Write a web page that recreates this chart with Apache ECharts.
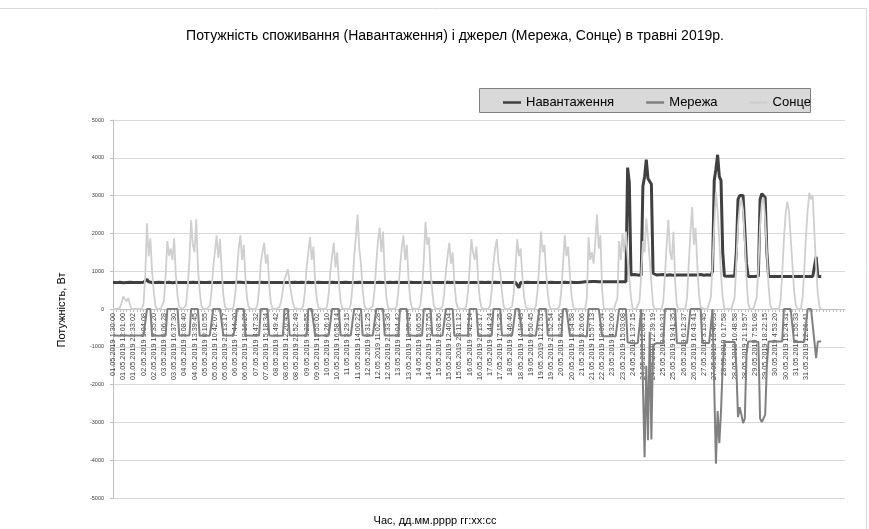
<!DOCTYPE html>
<html>
<head>
<meta charset="utf-8">
<title>Потужність у травні 2019</title>
<script src="https://cdn.jsdelivr.net/npm/echarts@6/dist/echarts.min.js"></script>
<style>
html, body { margin: 0; padding: 0; background: #fff; }
#main { width: 869px; height: 529px; }
</style>
</head>
<body>
<div id="main"></div>
<script>
// підписи осі часу (кожна 6-та точка)
var tickLabels = ['01.05.2019 1:30:00','01.05.2019 12:01:00','01.05.2019 22:33:02','02.05.2019 9:04:08','02.05.2019 19:35:20',
	'03.05.2019 6:06:28','03.05.2019 16:37:30','04.05.2019 3:08:40','04.05.2019 13:39:45','05.05.2019 0:10:55',
	'05.05.2019 10:42:07','05.05.2019 21:13:17','06.05.2019 7:44:20','06.05.2019 18:16:26','07.05.2019 4:47:32',
	'07.05.2019 15:18:34','08.05.2019 1:49:42','08.05.2019 12:20:43','08.05.2019 22:52:49','09.05.2019 9:23:55',
	'09.05.2019 19:55:02','10.05.2019 6:26:10','10.05.2019 16:58:14','11.05.2019 3:29:15','11.05.2019 14:00:22',
	'12.05.2019 0:31:25','12.05.2019 11:02:28','12.05.2019 21:33:36','13.05.2019 8:04:42','13.05.2019 18:35:49',
	'14.05.2019 5:06:55','14.05.2019 15:37:55','15.05.2019 2:08:56','15.05.2019 12:40:04','15.05.2019 23:11:12',
	'16.05.2019 9:42:14','16.05.2019 20:13:17','17.05.2019 6:44:24','17.05.2019 17:15:35','18.05.2019 3:46:40',
	'18.05.2019 14:18:43','19.05.2019 0:50:45','19.05.2019 11:21:51','19.05.2019 21:52:54','20.05.2019 8:23:56',
	'20.05.2019 18:54:58','21.05.2019 5:26:06','21.05.2019 15:57:13','22.05.2019 18:00:54','23.05.2019 4:32:00',
	'23.05.2019 15:03:08','24.05.2019 1:37:15','24.05.2019 12:08:19','24.05.2019 22:39:19','25.05.2019 9:10:31',
	'25.05.2019 19:41:35','26.05.2019 6:12:37','26.05.2019 16:43:41','27.05.2019 3:15:45','27.05.2019 13:46:53',
	'28.05.2019 0:17:58','28.05.2019 10:48:58','28.05.2019 21:19:57','29.05.2019 7:51:08','29.05.2019 18:22:15',
	'30.05.2019 4:53:20','30.05.2019 15:24:31','31.05.2019 1:55:33','31.05.2019 12:26:41'];

// Навантаження, Вт (рядок = доба)
var navantazhennya = [
	700,705,698,702,710,700,695,705,700,698,705,700,702,
	700,698,705,700,702,708,760,780,720,705,700,698,702,700,
	705,700,698,702,700,705,710,700,695,700,705,700,698,702,
	700,705,700,698,702,710,705,700,698,700,705,702,700,
	702,700,698,705,700,702,710,700,705,698,700,702,705,700,
	700,702,705,700,698,705,700,710,702,700,698,705,700,702,
	705,700,702,698,700,705,700,702,708,700,698,700,705,
	700,698,702,705,700,702,700,705,700,698,702,700,705,700,
	702,700,705,700,698,702,710,705,700,702,698,700,705,702,
	700,705,702,700,698,700,705,700,702,710,700,698,702,700,
	705,700,702,698,700,705,702,700,705,700,698,702,700,
	702,700,705,700,698,702,700,705,710,700,702,698,700,705,
	700,702,698,705,700,702,705,700,698,702,700,705,702,700,
	705,700,702,700,698,705,700,702,700,705,698,700,702,
	700,705,700,702,698,700,705,702,700,698,705,700,702,700,
	702,700,698,705,700,702,700,705,702,700,698,702,705,700,
	700,702,705,700,698,700,705,702,700,705,700,698,702,
	705,700,702,698,700,705,700,560,700,702,698,700,705,700,
	700,702,700,705,698,702,700,705,700,698,702,700,705,702,
	700,705,702,700,698,702,705,700,702,700,705,698,700,
	705,700,702,710,715,720,725,720,730,725,720,730,725,722,728,720,725,722,720,
	720,725,718,722,720,725,720,718,722,725,720,3740,3350,
	900,890,910,895,900,905,890,3250,3500,3950,3450,3400,3300,950,
	910,900,895,905,900,910,900,895,900,905,900,890,905,900,910,900,895,
	900,905,900,890,900,905,900,895,900,905,910,900,895,900,905,900,890,
	1000,3400,3700,4080,3500,3400,1500,
	870,860,865,860,870,860,865,1500,2900,3000,3020,3000,2950,1200,
	860,865,860,870,860,865,870,2900,3050,3070,2950,1500,
	860,865,860,870,860,865,860,870,860,865,860,870,860,865,
	860,870,860,865,860,870,860,865,860,870,860,865,860,870,
	1380,860,870,860
];

// Мережа, Вт
var merezha = [
	-700,-705,-698,-702,-710,-700,-695,-705,-700,-698,-705,-700,-702,
	-700,-698,-705,-700,-702,-708,-760,0,0,0,-700,-698,-702,-700,
	-705,-700,-698,-702,-700,0,0,0,0,0,0,0,-698,-702,
	-700,-705,-700,-698,-702,0,0,0,0,0,-705,-702,-700,
	-702,-700,-698,-705,-700,0,0,0,0,0,0,-702,-705,-700,
	-700,-702,-705,-700,-698,0,0,0,0,0,-698,-705,-700,-702,
	-705,-700,-702,-698,-700,0,0,0,0,0,-698,-700,-705,
	-700,-698,-702,-705,-700,-702,0,0,0,-698,-702,-700,-705,-700,
	-702,-700,-705,-700,-698,-702,0,0,0,0,-698,-700,-705,-702,
	-700,-705,-702,-700,-698,-700,0,0,0,0,0,-698,-702,-700,
	-705,-700,-702,-698,-700,0,0,0,0,0,-698,-702,-700,
	-702,-700,-705,-700,-698,0,0,0,0,0,-702,-698,-700,-705,
	-700,-702,-698,-705,-700,0,0,0,0,0,-700,-705,-702,-700,
	-705,-700,-702,-700,-698,0,0,0,0,0,-698,-700,-702,
	-700,-705,-700,-702,-698,0,0,0,0,0,-705,-700,-702,-700,
	-702,-700,-698,-705,-700,0,0,0,0,0,-698,-702,-705,-700,
	-700,-702,-705,-700,-698,0,0,0,0,0,-700,-698,-702,
	-705,-700,-702,-698,-700,0,0,0,0,-702,-698,-700,-705,-700,
	-700,-702,-700,-705,-698,0,0,0,0,0,-702,-700,-705,-702,
	-700,-705,-702,-700,-698,0,0,0,0,-700,-705,-698,-700,
	-705,-700,-702,-710,-715,-720,-725,0,0,0,0,0,0,0,0,-720,-725,-722,-720,
	-720,-725,-718,-722,-720,-725,0,0,0,0,0,
	-880,-890,-900,-890,-910,-895,-900,-905,0,0,
	-3920,-1500,-3470,-600,-3450,-950,
	-910,-900,-895,-905,-900,-910,0,0,0,0,0,0,0,
	-900,-890,-905,-900,-910,-900,-895,-900,0,0,0,0,0,0,0,
	-905,-910,-900,-895,-900,-905,0,0,
	-4090,-2700,-3550,-2700,-1500,
	-870,-860,-865,-860,-870,-860,-865,
	-1500,-2860,-2600,-2800,-3020,-2900,-1200,
	-860,-865,-860,-870,-860,-865,-870,
	-2900,-2990,-2950,-2800,-1500,
	-860,-865,-860,-870,-860,-865,-860,-870,-860,0,0,0,0,0,0,
	-865,-860,-870,-860,-865,-860,-870,-860,0,0,0,0,-865,
	-1300,-860,-870,-860
];

// Сонце, Вт
var sontse = [
	0,0,0,0,30,150,330,320,200,290,120,0,0,
	0,0,0,0,0,150,900,2270,1400,1870,1000,450,80,0,
	0,0,0,200,900,1800,1400,1600,1300,1870,900,350,50,0,
	0,0,100,600,1300,2350,1700,1500,2370,1100,500,100,0,
	0,0,0,80,450,1100,1500,1950,1350,1850,1000,350,40,0,
	0,0,0,60,400,1000,1600,1950,1300,1700,800,250,30,0,
	0,0,0,100,500,1200,1500,1750,1200,1450,600,150,0,
	0,0,0,50,200,500,800,900,1050,700,400,150,20,0,
	0,0,0,80,450,1100,1500,1900,1300,1650,750,250,30,0,
	0,0,0,60,400,1000,1400,1750,1100,1500,700,200,20,0,
	0,0,0,120,600,1400,1900,2500,1600,1200,500,100,0,
	0,0,0,80,500,1200,1800,2150,1500,2050,900,300,30,0,
	0,0,0,70,450,1100,1600,1950,1300,1700,800,250,30,0,
	0,0,0,100,550,1300,2300,1700,1900,1000,450,80,0,
	0,0,0,60,400,1000,1400,1750,1200,1500,700,200,20,0,
	0,0,0,80,450,1100,1850,1500,1300,1650,750,250,30,0,
	0,0,0,90,500,1200,1600,1850,1200,1000,450,80,0,
	0,0,0,70,450,1100,1850,1400,1600,900,350,60,0,0,
	0,0,0,80,500,1200,2050,1500,1700,1000,400,70,0,0,
	0,0,0,90,500,1200,1950,1400,1650,900,350,60,0,
	0,0,0,0,0,0,300,1900,1300,1500,1200,1800,2500,1600,1950,500,0,0,0,
	0,0,0,0,0,300,1800,1300,2000,1500,2050,1400,800,300,
	0,0,0,0,200,900,1800,1500,2400,1900,1300,700,100,
	0,0,0,0,0,200,900,1700,2360,1500,1300,2040,700,100,
	0,0,0,0,0,300,1200,2000,2700,1700,2150,1200,400,50,
	0,0,0,0,0,300,1200,2200,3100,2600,1800,900,300,
	0,0,0,0,0,0,300,1200,2200,2700,2900,2600,1800,800,150,
	0,0,0,0,300,1100,2200,2800,2950,2400,1500,600,100,
	0,0,0,0,0,200,900,1800,2500,2840,2600,1900,1200,500,100,
	0,0,0,300,1000,1900,2600,3070,2900,3000,2000,1100,400,50,0
];

var STEP = 6;
var TOTAL = 432;
var cats = [];
for (var i = 0; i < TOTAL; i++) {
	if (i % STEP === 0 && i / STEP < tickLabels.length) {
		cats.push(tickLabels[i / STEP]);
	} else {
		cats.push('t' + i);
	}
}

var FONT = 'Liberation Sans, Arial, sans-serif';
var myChart = echarts.init(document.getElementById('main'), null, { renderer: 'canvas' });

var option = {
	animation : false,
	backgroundColor : '#fff',
	color : [ '#404040', '#808080', '#cfcfcf' ],
	textStyle : { fontFamily : FONT },
	grid : {
		left : 113,
		right : 24,
		top : 120,
		bottom : 31,
		containLabel : false,
		outerBoundsMode : 'none'
	},
	legend : {
		left : 498,
		top : 91,
		icon : 'rect',
		itemWidth : 18,
		itemHeight : 2.5,
		itemGap : 32,
		textStyle : { fontSize : 13, color : '#000', fontFamily : FONT },
		data : [ 'Навантаження', 'Мережа', 'Сонце' ]
	},
	xAxis : {
		type : 'category',
		boundaryGap : false,
		data : cats,
		offset : -189, // вісь категорій перетинає Y на нулі
		axisLine : { onZero : false, lineStyle : { color : '#bfbfbf' } },
		axisTick : { show : true, interval : 1, length : 3, lineStyle : { color : '#bfbfbf' } },
		axisLabel : {
			rotate : 90,
			fontSize : 7.3,
			margin : 4,
			color : '#404040',
			fontFamily : FONT,
			interval : function(idx) {
				return idx % STEP === 0 && idx / STEP < tickLabels.length;
			},
			formatter : function(v) {
				return v.charAt(0) === 't' ? '' : v;
			}
		},
		splitLine : { show : false }
	},
	yAxis : {
		type : 'value',
		min : -5000,
		max : 5000,
		interval : 1000,
		axisLine : { show : true, lineStyle : { color : '#bfbfbf' } },
		axisTick : { show : true, length : 3, lineStyle : { color : '#bfbfbf' } },
		axisLabel : { fontSize : 5.5, margin : 9, color : '#404040', fontFamily : FONT,
			formatter : function(v) { return String(v); } },
		splitLine : { lineStyle : { color : '#d9d9d9' } }
	},
	graphic : [
		// рамка області діаграми
		{ type : 'rect', z : -2, shape : { x : -1, y : 8.5, width : 867.5, height : 525 },
			style : { fill : null, stroke : '#d9d9d9', lineWidth : 1 } },
		{ type : 'rect', z : -1, shape : { x : 479.5, y : 88.5, width : 331, height : 24 },
			style : { fill : '#d9d9d9', stroke : '#808080', lineWidth : 1 } },
		{ type : 'text', x : 455, y : 36,
			style : { text : 'Потужність споживання (Навантаження) і джерел (Мережа, Сонце) в травні 2019р.',
				fontSize : 14, fontFamily : FONT, fill : '#000', textAlign : 'center', textVerticalAlign : 'middle' } },
		{ type : 'text', x : 62, y : 310, rotation : Math.PI / 2,
			style : { text : 'Потужність, Вт', fontSize : 11, fontFamily : FONT, fill : '#000',
				textAlign : 'center', textVerticalAlign : 'middle' } },
		{ type : 'text', x : 435, y : 521,
			style : { text : 'Час, дд.мм.рррр гг:хх:сс', fontSize : 11, fontFamily : FONT, fill : '#000',
				textAlign : 'center', textVerticalAlign : 'middle' } }
	],
	series : [
		{ name : 'Навантаження', type : 'line', data : navantazhennya, showSymbol : false, symbol : 'none',
			lineStyle : { width : 3, color : '#404040' } },
		{ name : 'Мережа', type : 'line', data : merezha, showSymbol : false, symbol : 'none',
			lineStyle : { width : 2, color : '#808080' } },
		{ name : 'Сонце', type : 'line', data : sontse, showSymbol : false, symbol : 'none',
			lineStyle : { width : 1.8, color : '#cfcfcf' } }
	]
};
myChart.setOption(option);
</script>
</body>
</html>
